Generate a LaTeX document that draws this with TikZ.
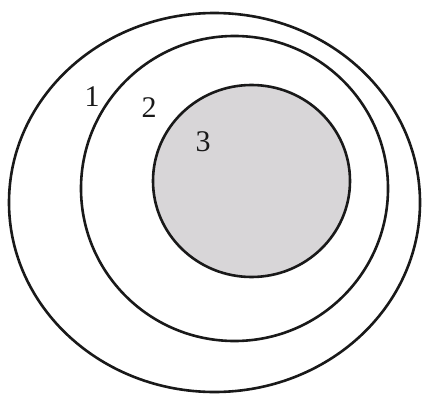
\documentclass[tikz,border=0pt]{standalone}
\usepackage{fontspec}
\setmainfont{Liberation Serif}
\usepackage{tikz}
\usetikzlibrary{positioning}
\definecolor{ringline}{RGB}{25, 25, 25}
\definecolor{corefill}{RGB}{216, 214, 216}

\begin{document}
\begin{tikzpicture}[x=1pt, y=-1pt, font=\fontsize{30}{30}\selectfont]
  \useasboundingbox (0,0) rectangle (422,396);

  \draw[line width=2.6pt, ringline] (214.5,202.5) ellipse (205.5pt and 189.5pt);
  \draw[line width=2.6pt, ringline] (234.5,188.5) ellipse (153.5pt and 152.5pt);
  \draw[line width=2.6pt, ringline, fill=corefill] (251.5,181) ellipse (98.5pt and 96pt);

  \node[ringline] (one) at (92,97) {1};
  \node[ringline] (two) at (149,108) {2};
  \node[ringline] (three) at (203,142) {3};
\end{tikzpicture}
\end{document}
